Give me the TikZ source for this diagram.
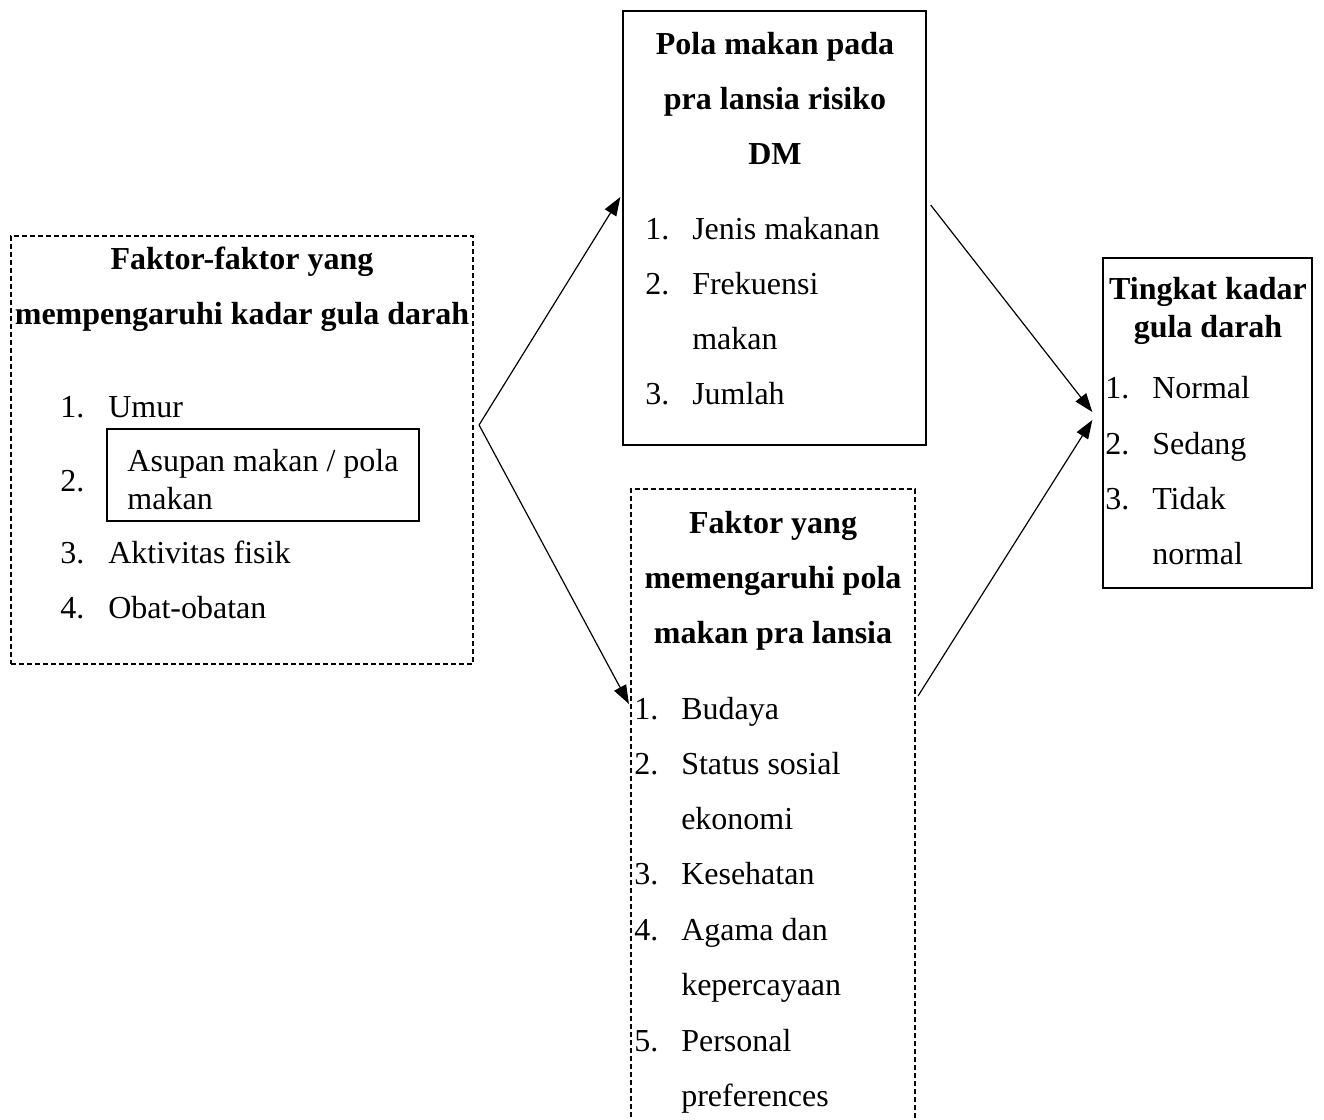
\documentclass[tikz,border=0pt]{standalone}
\usepackage{fontspec}
\setmainfont{Liberation Serif}
\usetikzlibrary{arrows.meta}
\begin{document}
\begin{tikzpicture}[
    x=0.75pt, y=-0.75pt,
    every node/.style={font=\fontsize{24}{41.25}\selectfont},
    solidbox/.style={draw, line width=1pt, inner sep=0pt},
    dashbox/.style={draw, line width=1.6pt, dash pattern=on 4pt off 2pt, inner sep=0pt},
    judul/.style={align=center, inner sep=0pt, font=\fontsize{24}{41.25}\selectfont\bfseries},
    judulrapat/.style={align=center, inner sep=0pt, font=\fontsize{24}{28.5}\selectfont\bfseries},
    item/.style={anchor=mid west, inner sep=0pt},
    >={Triangle[length=14pt,width=10pt]},
    link/.style={->, line width=0.9pt}
  ]
  \useasboundingbox (0,0) rectangle (1324,1120);
  % Boxes
  \node[dashbox, minimum width=346.5pt, minimum height=321pt] (faktor) at (242,450) {};
  \node[solidbox, minimum width=227.25pt, minimum height=325.5pt] (pola) at (774.5,228) {};
  \node[dashbox, minimum width=213pt, minimum height=480.75pt] (pengaruh) at (773,809.5) {};
  \node[solidbox, minimum width=156.75pt, minimum height=247.5pt] (tingkat) at (1207.5,423) {};
  % Titles
  \node[judul] (faktor-judul) at (242,289.5) {Faktor-faktor yang\\mempengaruhi kadar gula darah};
  \node[judul] (pola-judul) at (775,98.5) {Pola makan pada\\pra lansia risiko\\DM};
  \node[judul] (pengaruh-judul) at (773,581) {Faktor yang\\memengaruhi pola\\makan pra lansia};
  \node[judulrapat] (tingkat-judul) at (1208,311) {Tingkat kadar\\gula darah};
  % Faktor list
  \foreach \y/\n in {414/1, 488/2, 560/3, 615/4}
    \node[item] (faktor-n\n) at (60,\y) {\n.};
  \foreach \y/\t [count=\i] in {414/Umur, 560/Aktivitas fisik, 615/Obat-obatan}
    \node[item] (faktor-t\i) at (108,\y) {\t};
  \node[solidbox, minimum width=234pt, minimum height=69pt] (asupan) at (263,475) {};
  \node[align=left, inner sep=0pt, font=\fontsize{24}{28.5}\selectfont]
    (asupan-t) at (263,480) {Asupan makan / pola\\makan};
  % Pola list
  \foreach \y/\n in {236/1, 291/2, 401/3}
    \node[item] (pola-n\n) at (645,\y) {\n.};
  \foreach \y/\t [count=\i] in {236/Jenis makanan, 291/Frekuensi, 346/makan, 401/Jumlah}
    \node[item] (pola-t\i) at (692,\y) {\t};
  % Pengaruh list
  \foreach \y/\n in {716/1, 771/2, 881/3, 937/4, 1048/5}
    \node[item] (pengaruh-n\n) at (634,\y) {\n.};
  \foreach \y/\t [count=\i] in {716/Budaya, 771/Status sosial, 826/ekonomi, 881/Kesehatan,
                               937/Agama dan, 992/kepercayaan, 1048/Personal, 1103/preferences}
    \node[item] (pengaruh-t\i) at (681,\y) {\t};
  % Tingkat list
  \foreach \y/\n in {395/1, 451/2, 506/3}
    \node[item] (tingkat-n\n) at (1105,\y) {\n.};
  \foreach \y/\t [count=\i] in {395/Normal, 451/Sedang, 506/Tidak, 561/normal}
    \node[item] (tingkat-t\i) at (1152,\y) {\t};
  % Arrows
  \draw[link] ([shift={(5,-25)}]faktor.east) -- ([shift={(-2,-31)}]pola.west);
  \draw[link] ([shift={(5,-25)}]faktor.east) -- ([shift={(-1,216)}]pengaruh.north west);
  \draw[link] ([shift={(4,-23)}]pola.east) -- ([shift={(-10,-11)}]tingkat.west);
  \draw[link] ([shift={(2,208)}]pengaruh.north east) -- ([shift={(-10,-3)}]tingkat.west);
\end{tikzpicture}
\end{document}
